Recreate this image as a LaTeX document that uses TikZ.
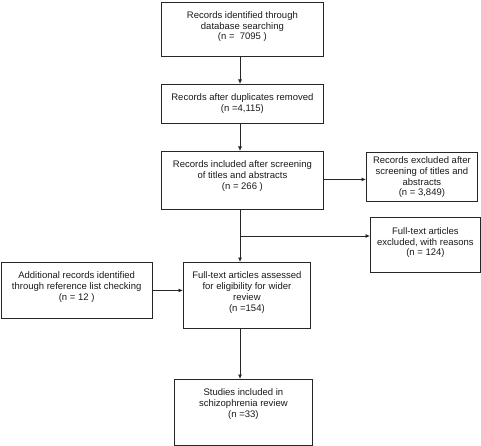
\documentclass[tikz,border=0pt]{standalone}
\usepackage{fontspec}
\setmainfont{Liberation Sans}
\usetikzlibrary{arrows.meta}
\newcommand{\bxt}[4]{\parbox[c][#2][t]{#1}{\centering\fontsize{9.5}{10.7}\selectfont\rule{0pt}{#3}#4}}
\begin{document}
\begin{tikzpicture}[x=1pt,y=-1pt,
  box/.style={draw=black!85,line width=0.8pt,inner sep=0pt,anchor=north west,text=black!90},
  arr/.style={draw=black!85,line width=0.8pt,-{Latex[length=4.5pt,width=4pt]}},
  ln/.style={draw=black!85,line width=0.8pt}]
\useasboundingbox (0,0) rectangle (481,446);
\coordinate (ax) at (240,0);
\node[box] (b1) at (161,2) {\bxt{162pt}{54pt}{16pt}{Records identified through\\database searching\\(n =\ \ 7095 )}};
\node[box] (b2) at (161,84) {\bxt{162pt}{39pt}{16pt}{Records after duplicates removed\\(n =4,115)}};
\node[box] (b3) at (161,151) {\bxt{162pt}{58pt}{16.5pt}{Records included after screening\\of titles and abstracts\\(n = 266 )}};
\node[box] (ex1) at (366,152) {\bxt{111pt}{49pt}{11.5pt}{Records excluded after\\screening of titles and\\abstracts\\(n = 3,849)}};
\node[box] (ex2) at (370,217) {\bxt{110pt}{55pt}{17pt}{Full-text articles\\excluded, with reasons\\(n = 124)}};
\node[box] (add) at (0.5,262) {\bxt{151.5pt}{56pt}{16.5pt}{Additional records identified\\through reference list checking\\(n = 12 )}};
\node[box] (as) at (183,262) {\bxt{127pt}{66pt}{16.5pt}{Full-text articles assessed\\for eligibility for wider\\review\\(n =154)}};
\node[box] (fin) at (174,379) {\bxt{138pt}{66pt}{16.5pt}{Studies included in\\schizophrenia review\\(n =33)}};
\coordinate (br) at (240,236);
\draw[arr] (b1.south -| ax) -- (b2.north -| ax);
\draw[arr] (b2.south -| ax) -- (b3.north -| ax);
\draw[arr] ([yshift=1pt]b3.east) -- ([yshift=1pt]b3.east -| ex1.west);
\draw[arr] (b3.south -| ax) -- (as.north -| ax);
\draw[arr] (br) -- (br -| ex2.west);
\draw[arr] (add.east) -- (add.east -| as.west);
\draw[arr] (as.south -| ax) -- (fin.north -| ax);
\end{tikzpicture}
\end{document}
